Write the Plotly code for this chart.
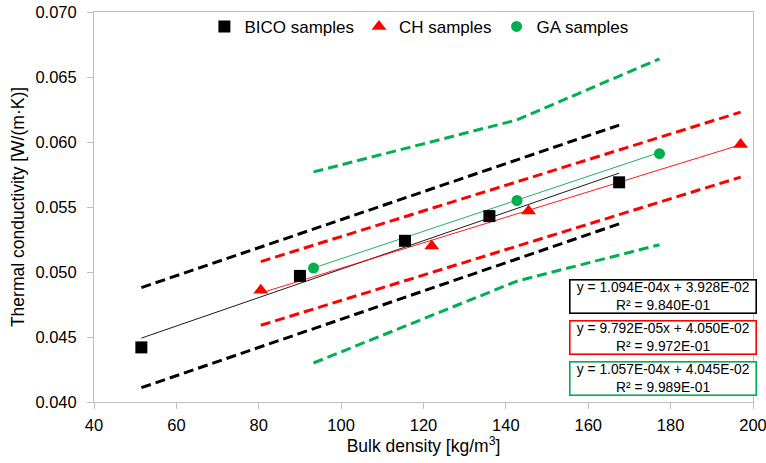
import plotly.graph_objects as go

# ---- data ----
bico_x = [51.5, 90.0, 115.5, 136.0, 167.5]
bico_y = [0.0442, 0.0497, 0.0524, 0.0543, 0.0569]
ch_x = [80.5, 122.0, 145.5, 197.0]
ch_y = [0.0486, 0.0520, 0.0547, 0.0598]
ga_x = [93.3, 142.7, 177.3]
ga_y = [0.0503, 0.0555, 0.0591]

# regression coefficients (slope, intercept, R2) shown in the chart
bico_fit = [1.094e-04, 3.928e-02, 9.840e-01]
ch_fit = [9.792e-05, 4.050e-02, 9.972e-01]
ga_fit = [1.057e-04, 4.045e-02, 9.989e-01]

# dashed bands
bico_band_x = [51.5, 167.5]
bico_band_up = [0.0488, 0.0613]
bico_band_lo = [0.0411, 0.0537]
ch_band_x = [80.5, 197.0]
ch_band_up = [0.0508, 0.0623]
ch_band_lo = [0.0459, 0.0573]
ga_band_x = [93.3, 142.7, 177.3]
ga_band_up = [0.0577, 0.0617, 0.0664]
ga_band_lo = [0.0430, 0.0493, 0.0521]

legend_names = ["BICO samples", "CH samples", "GA samples"]

BLACK = "#000000"
RED = "#ff0000"
GREEN = "#00b050"
FONT = "Liberation Sans, Arial, sans-serif"
DASH = "10px,5px"

fig = go.Figure()

series = [
    (bico_x, bico_y, bico_fit, bico_band_x, bico_band_up, bico_band_lo, BLACK, "square", 12, legend_names[0]),
    (ch_x, ch_y, ch_fit, ch_band_x, ch_band_up, ch_band_lo, RED, "triangle-up", 13, legend_names[1]),
    (ga_x, ga_y, ga_fit, ga_band_x, ga_band_up, ga_band_lo, GREEN, "circle", 11, legend_names[2]),
]

# bands first
for xs, ys, fit, bx, bu, bl, col, sym, sz, name in series:
    for yy in (bu, bl):
        fig.add_trace(go.Scatter(x=bx, y=yy, mode="lines", showlegend=False,
                                 line=dict(color=col, width=3, dash=DASH),
                                 hoverinfo="skip"))

# trend lines
for xs, ys, fit, bx, bu, bl, col, sym, sz, name in series:
    tx = [min(xs), max(xs)]
    ty = [fit[0] * v + fit[1] for v in tx]
    fig.add_trace(go.Scatter(x=tx, y=ty, mode="lines", showlegend=False,
                             line=dict(color=col, width=0.9), hoverinfo="skip"))

# markers
for xs, ys, fit, bx, bu, bl, col, sym, sz, name in series:
    fig.add_trace(go.Scatter(x=xs, y=ys, mode="markers", name=name,
                             marker=dict(symbol=sym, size=sz, color=col,
                                         line=dict(width=0))))

# equation boxes
box_y = [0.270, 0.1645, 0.059]
for (xs, ys, fit, bx, bu, bl, col, sym, sz, name), by in zip(series, box_y):
    txt = "y = %.3E" % fit[0] + "x + %.3E" % fit[1] + "<br>R² = %.3E" % fit[2]
    fig.add_annotation(xref="paper", yref="paper", x=0.864, y=by,
                       xanchor="center", yanchor="middle", showarrow=False,
                       text=txt, align="center",
                       font=dict(family=FONT, size=13.8, color="#000000"),
                       bordercolor=col, borderwidth=1.6, borderpad=0,
                       bgcolor="#ffffff", width=185, height=32)

axis_common = dict(showline=True, linecolor="#bfbfbf", linewidth=1,
                   mirror=True, showgrid=False, zeroline=False, automargin=False,
                   ticks="outside", tickcolor="#bfbfbf", ticklen=6,
                   ticklabeloverflow="allow",
                   tickfont=dict(family=FONT, size=16.5, color="#000000"))

fig.update_layout(
    width=766, height=463,
    margin=dict(l=94, r=13, t=12, b=61, pad=0, autoexpand=False),
    paper_bgcolor="#ffffff", plot_bgcolor="#ffffff",
    font=dict(family=FONT, color="#000000"),
    xaxis=dict(range=[40, 200], dtick=20, tick0=40, ticklabelstandoff=2,
               title=dict(text="Bulk density [kg/m<sup>3</sup>]",
                          font=dict(family=FONT, size=17.5), standoff=5),
               **axis_common),
    yaxis=dict(range=[0.040, 0.070], dtick=0.005, tick0=0.040, tickformat=".3f",
               ticklabelstandoff=7,
               title=dict(text="Thermal conductivity [W/(m·K)]",
                          font=dict(family=FONT, size=17.5), standoff=6),
               **axis_common),
    legend=dict(orientation="h", x=0.493, xanchor="center", y=1.008, yanchor="top",
                font=dict(family=FONT, size=17), bgcolor="rgba(0,0,0,0)",
                itemwidth=30, tracegroupgap=0),
    showlegend=True,
)

fig.write_html("out.html")
